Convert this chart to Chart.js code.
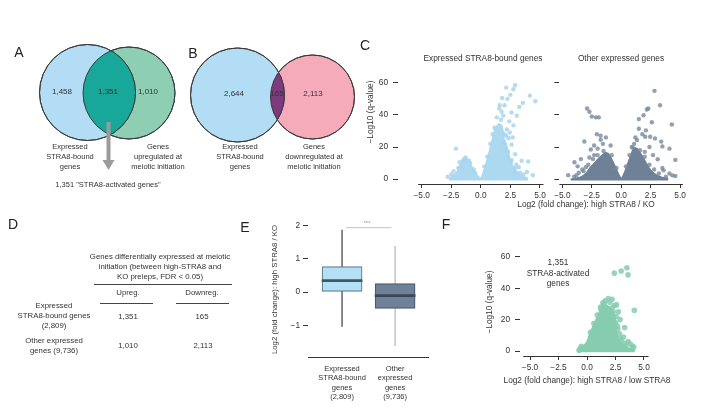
<!DOCTYPE html>
<html><head><meta charset="utf-8">
<script src="https://cdn.jsdelivr.net/npm/chart.js@4.4.1/dist/chart.umd.min.js"></script>
<style>
html,body{margin:0;padding:0;background:#fff;}
#page{position:relative;width:703px;height:412px;overflow:hidden;font-family:"Liberation Sans",Arial,sans-serif;color:#333;background:#fff;}
canvas{position:absolute;}
.t{position:absolute;transform:translate(-50%,-50%);white-space:nowrap;text-align:center;font-size:8px;line-height:10px;}
.s75{font-size:7.5px;}
.s78{font-size:7.8px;}
.s83{font-size:8.3px;}
.L{position:absolute;transform:translate(-50%,-50%);font-size:14px;color:#222;line-height:14px;}
.hr{position:absolute;height:0;border-top:1px solid #444;}
.rot{transform:translate(-50%,-50%) rotate(-90deg);}
</style></head>
<body>
<div id="page">
<canvas id="vennA" width="160" height="115" style="left:30px;top:35px"></canvas>
<canvas id="vennB" width="180" height="115" style="left:185px;top:40px"></canvas>
<canvas id="cLeft" width="188" height="138" style="left:368px;top:68px"></canvas>
<canvas id="cRight" width="144" height="138" style="left:551px;top:68px"></canvas>
<canvas id="boxE" width="168" height="200" style="left:270px;top:212px"></canvas>
<canvas id="volF" width="176" height="147" style="left:485px;top:238px"></canvas>

<svg style="position:absolute;left:0;top:0" width="703" height="412">
  <line x1="108.5" y1="122" x2="108.5" y2="161" stroke="#9b9b9b" stroke-width="4"/>
  <polygon points="102.5,160 114.5,160 108.5,170" fill="#9b9b9b"/>
</svg>

<div class="L" style="left:19px;top:52px">A</div>
<div class="L" style="left:193px;top:53px">B</div>
<div class="L" style="left:365px;top:45px">C</div>
<div class="L" style="left:13px;top:224px">D</div>
<div class="L" style="left:245px;top:227px">E</div>
<div class="L" style="left:446px;top:224px">F</div>

<div id="textA"></div>
<div class="t s75" style="left:70px;top:157px">Expressed<br>STRA8-bound<br>genes</div>
<div class="t s75" style="left:158px;top:157px">Genes<br>upregulated at<br>meiotic initiation</div>
<div class="t s75" style="left:108px;top:185px">1,351 "STRA8-activated genes"</div>

<div class="t s75" style="left:240px;top:157px">Expressed<br>STRA8-bound<br>genes</div>
<div class="t s75" style="left:314px;top:157px">Genes<br>downregulated at<br>meiotic initiation</div>

<div class="t s83" style="left:483px;top:58px">Expressed STRA8-bound genes</div>
<div class="t s83" style="left:621px;top:58px">Other expressed genes</div>
<div class="t s83" style="left:586px;top:204px">Log2 (fold change): high STRA8 / KO</div>
<div class="t s83 rot" style="left:370px;top:112px">−Log10 (q-value)</div>

<div class="t s78" style="left:160px;top:267px">Genes differentially expressed at meiotic<br>initiation (between high-STRA8 and<br>KO preleps, FDR &lt; 0.05)</div>
<div class="hr" style="left:94px;top:284px;width:138px"></div>
<div class="hr" style="left:100px;top:303px;width:53px"></div>
<div class="hr" style="left:176px;top:303px;width:53px"></div>
<div id="tableD"></div>

<div class="t" style="left:367px;top:223px;font-size:6px;color:#999">***</div>
<div class="t s83" style="left:558px;top:273px;line-height:10.5px">1,351<br>STRA8-activated<br>genes</div>
<div class="t s83" style="left:587px;top:380px">Log2 (fold change): high STRA8 / low STRA8</div>
</div>

<script>
// ---------------- DATA ----------------
const vennACounts = [1458, 1351, 1010];          // STRA8-bound only, both, upregulated only
const vennBCounts = [2644, 165, 2113];           // STRA8-bound only, both, downregulated only

const tableRowLabels = ["Expressed<br>STRA8-bound genes<br>(2,809)", "Other expressed<br>genes (9,736)"];
const tableColLabels = ["Upreg.", "Downreg."];
const tableUp = [1351, 1010];
const tableDown = [165, 2113];

const volcanoXTicks = [-5, -2.5, 0, 2.5, 5];
const volcanoYTicks = [0, 20, 40, 60];

// upper envelope of the dense point cloud [log2FC, -log10 q]
const boundCloud = [[-2.7,0],[-2.3,2.5],[-2.0,4.5],[-1.75,9],[-1.55,12.5],[-1.35,13.5],[-1.1,12.5],[-0.85,9],[-0.55,5],[-0.25,2],[0,0.3],[0.2,4],[0.45,10],[0.65,15.5],[0.85,21],[1.05,27],[1.2,31],[1.35,33],[1.55,34.5],[1.75,33.5],[1.88,30],[1.95,25],[2.1,23],[2.25,19.5],[2.4,14],[2.65,9],[3.0,5],[3.5,2],[4.0,0.5]];
const boundPoints = [[2.9,58.5],[2.75,56],[2.15,57],[2.5,52.5],[2.25,50],[1.8,50.5],[1.6,46],[1.55,44],[4.15,52],[4.6,48.5],[3.55,47.5],[3.25,45],[2.6,41.5],[1.9,39.5],[1.35,38.5],[3.05,39.5],[2.75,33.5],[2.2,31],[2.35,25.5],[2.6,21.5],[2.05,18.5],[2.9,15.5],[3.45,11.5],[4.0,11],[3.2,7.5],[3.9,4.5],[4.4,2.5],[-2.1,19],[-2.8,1.5],[-1.6,7],[-2.3,5],[-1.0,11.5],[1.75,42],[2.0,46],[2.4,36],[1.7,37],[2.45,29],[2.15,27],[2.7,26],[1.95,22],[2.3,14],[2.55,10.5],[3.0,9],[-1.3,13.5],[-1.8,10.5],[-2.5,3],[-0.6,6],[3.6,3],[2.9,4],
  [0.3,8],[0.55,14],[0.8,22],[1.0,28],[1.15,32],[2.0,28],[2.3,17],[2.6,12],[2.9,7],[3.3,4],[-1.5,11.5],[-1.9,7],[-0.9,10],[-0.5,4]];

const otherCloud = [[-4.3,0],[-3.5,1],[-3.0,3.5],[-2.6,7.5],[-2.2,10.5],[-1.9,13],[-1.6,15],[-1.35,16.5],[-1.1,16],[-0.85,13],[-0.55,8.5],[-0.25,3.5],[0,0.5],[0.25,3.5],[0.5,8.5],[0.75,13.5],[0.95,17.5],[1.15,19.5],[1.35,19],[1.6,16.5],[1.9,13],[2.2,9],[2.5,5.5],[2.9,3],[3.4,1.2],[4.0,0.3]];
const otherPoints = [[-2.9,44],[-2.7,42],[-2.5,39],[-1.9,38.5],[-2.15,38.5],[-2.07,28],[-1.75,27],[-1.74,24.5],[-1.3,26],[-3.13,23.5],[-2.58,18.5],[-3.42,12.5],[-3.97,10.5],[-4.5,2.5],[-4.0,1.5],[-3.6,4],[-3.0,7.5],[-2.7,13.5],[-0.9,21],[-2.3,21],[-1.55,22],[-2.0,19],[-3.3,6],[-2.3,15],[-3.7,8],[2.83,55],[3.3,46],[2.3,44],[2.18,43.4],[1.9,39.8],[1.5,37.4],[2.6,35.4],[4.3,34],[1.5,31.4],[2.1,30.4],[1.34,24.4],[2.04,26.4],[2.46,26.4],[2.87,25.4],[3.4,23.4],[3.5,20.4],[4.1,19],[4.6,12],[3.1,12.4],[3.5,7],[4.1,3.5],[4.35,2.4],[3.6,5.5],[1.8,28],[1.2,26],[2.4,20],[2.0,17],[2.7,15],[1.1,22],[0.9,20],[4.6,2],
  [-3.8,2.5],[-3.2,5],[-2.8,9],[-2.4,12.5],[-2.0,15],[-1.5,17.5],[-0.8,15],[-0.4,7],[0.4,8],[0.7,15],[1.0,19.5],[1.6,18],[2.0,14],[2.4,9],[2.8,6],[3.2,3.5],[3.8,1.5]];

const activatedCloud = [[-0.8,0],[-0.7,2],[-0.3,3.5],[0,6],[0.2,10],[0.45,14.5],[0.7,18.5],[0.95,22.5],[1.15,26],[1.35,28.5],[1.6,29.5],[1.85,28.5],[2.1,27],[2.35,24],[2.5,20],[2.55,14],[2.7,9],[2.95,5.5],[3.3,3],[3.8,1.5],[4.2,0.3]];
const activatedPoints = [[3.5,53],[3.0,51],[2.4,49.6],[3.6,48.5],[1.87,33.5],[2.6,29.4],[4.15,26],[1.4,30.8],[2.7,14],[3.6,6],[4.0,3],[3.2,9],[2.3,25],[2.0,31],[2.9,20],[3.3,15],[2.5,18],[3.8,4.5],[4.1,2.5],[-0.6,1.5],[-0.7,0.5],[2.2,33],[1.6,32],[2.85,11],[3.0,6.5],[2.4,29],[1.2,28],[2.75,25],[3.4,3],
  [0.3,12],[0.6,17.5],[0.9,23],[1.2,27],[1.5,30],[2.2,27.5],[2.55,22],[2.65,16],[2.9,8],[3.3,5],[-0.5,3]];

const boxCategories = [["Expressed","STRA8-bound","genes","(2,809)"],["Other","expressed","genes","(9,736)"]];
const boxQ1 = [0.02, -0.49];
const boxMedian = [0.34, -0.11];
const boxQ3 = [0.76, 0.25];
const whiskerLow = [-1.04, -1.62];
const whiskerHigh = [1.87, 1.38];
const boxYTicks = [-1, 0, 1, 2];

// ---------------- TEXT ----------------
const fmtN = n => n.toLocaleString('en-US');
function addText(parent, x, y, html, cls) {
  const d = document.createElement('div');
  d.className = 't ' + (cls || '');
  d.style.left = x + 'px'; d.style.top = y + 'px';
  d.innerHTML = html;
  document.getElementById(parent).appendChild(d);
}
addText('textA', 62, 92, fmtN(vennACounts[0]));
addText('textA', 108, 92, fmtN(vennACounts[1]));
addText('textA', 148, 92, fmtN(vennACounts[2]));
addText('textA', 234, 94, fmtN(vennBCounts[0]));
addText('textA', 277, 94, fmtN(vennBCounts[1]));
addText('textA', 313, 94, fmtN(vennBCounts[2]));
addText('tableD', 128, 293, tableColLabels[0], 's78');
addText('tableD', 202, 293, tableColLabels[1], 's78');
addText('tableD', 54, 316, tableRowLabels[0], 's78');
addText('tableD', 54, 346, tableRowLabels[1], 's78');
addText('tableD', 128, 317, fmtN(tableUp[0]), 's78');
addText('tableD', 202, 317, fmtN(tableDown[0]), 's78');
addText('tableD', 128, 346, fmtN(tableUp[1]), 's78');
addText('tableD', 203, 346, fmtN(tableDown[1]), 's78');

// ---------------- CHARTS ----------------
Chart.defaults.font.family = '"Liberation Sans", Arial, sans-serif';
Chart.defaults.font.size = 8.3;
Chart.defaults.color = '#333';
Chart.defaults.animation = false;
Chart.defaults.events = [];
Chart.defaults.plugins.legend.display = false;
Chart.defaults.plugins.tooltip.enabled = false;

// Venn diagrams: two bubbles + lens overlay clipped to their intersection
const lensPlugin = {
  id: 'lens',
  afterDatasetsDraw(chart, args, opts) {
    const a = chart.getDatasetMeta(0).data[0], b = chart.getDatasetMeta(1).data[0];
    const ra = a.options.radius, rb = b.options.radius;
    const ctx = chart.ctx;
    ctx.save();
    ctx.beginPath(); ctx.arc(a.x, a.y, ra, 0, Math.PI * 2); ctx.clip();
    ctx.beginPath(); ctx.arc(b.x, b.y, rb, 0, Math.PI * 2);
    ctx.fillStyle = opts.color; ctx.fill();
    ctx.restore();
    ctx.save();
    ctx.strokeStyle = opts.stroke; ctx.lineWidth = 1;
    ctx.beginPath(); ctx.arc(a.x, a.y, ra, 0, Math.PI * 2); ctx.stroke();
    ctx.beginPath(); ctx.arc(b.x, b.y, rb, 0, Math.PI * 2); ctx.stroke();
    ctx.restore();
  }
};
function venn(id, w, h, c1, c2, col1, col2, lensCol) {
  return new Chart(document.getElementById(id), {
    type: 'bubble',
    data: { datasets: [
      { data: [c1], backgroundColor: col1, borderColor: '#3a3a3a', borderWidth: 1, clip: false },
      { data: [c2], backgroundColor: col2, borderColor: '#3a3a3a', borderWidth: 1, clip: false }
    ]},
    options: {
      responsive: false,
      layout: { padding: 0, autoPadding: false },
      scales: {
        x: { type: 'linear', min: 0, max: w, display: false },
        y: { type: 'linear', min: 0, max: h, reverse: true, display: false }
      },
      plugins: { lens: { color: lensCol, stroke: '#3a3a3a' } }
    },
    plugins: [lensPlugin]
  });
}
venn('vennA', 160, 115, {x: 57.5, y: 57.5, r: 48}, {x: 99, y: 58, r: 46}, '#b3ddf4', '#8ecfb3', '#17a89a');
venn('vennB', 180, 115, {x: 52.5, y: 55, r: 47}, {x: 127.5, y: 57, r: 42}, '#b3ddf4', '#f5abba', '#7d3a7c');

// volcano plots
const axisLinePlugin = {
  id: 'axisLine',
  afterDraw(chart, args, opts) {
    const xs = chart.scales.x, y = Math.round(chart.chartArea.bottom) + 0.5;
    const ctx = chart.ctx;
    ctx.save(); ctx.strokeStyle = '#333'; ctx.lineWidth = 1;
    ctx.beginPath(); ctx.moveTo(xs.getPixelForValue(opts.from), y); ctx.lineTo(xs.getPixelForValue(opts.to), y); ctx.stroke();
    ctx.restore();
  }
};
const fmtX = v => (v < 0 ? '\u2212' : '') + Math.abs(v).toFixed(1);
function volcano(id, o) {
  return new Chart(document.getElementById(id), {
    type: 'scatter',
    data: { datasets: [
      { type: 'line', data: o.cloud.map(([x, y]) => ({x, y})), fill: {value: -0.8}, backgroundColor: o.cloudColor, borderColor: o.cloudColor, borderWidth: 1.5, pointRadius: 0, tension: 0.15, order: 2 },
      { data: o.points.map(([x, y]) => ({x, y})), backgroundColor: o.pointColor, borderWidth: 0, pointRadius: o.r, order: 1 }
    ]},
    options: {
      responsive: false,
      layout: { padding: { top: o.padTop, right: o.padRight, left: 0, bottom: 0 } },
      scales: {
        x: { type: 'linear', min: o.xmin, max: o.xmax,
          afterBuildTicks: s => { s.ticks = volcanoXTicks.map(v => ({value: v})); },
          afterFit: s => { s.height = o.xh; },
          ticks: { callback: fmtX, autoSkip: false, maxRotation: 0, minRotation: 0, padding: 3 },
          grid: { drawOnChartArea: false, tickLength: 4, color: '#333' },
          border: { display: false }
        },
        y: { type: 'linear', min: o.ymin, max: o.ymax,
          afterBuildTicks: s => { s.ticks = volcanoYTicks.map(v => ({value: v})); },
          afterFit: s => { s.width = o.yw; },
          ticks: { callback: v => o.yLabels ? String(v) : '', padding: 5 },
          grid: { drawOnChartArea: false, tickLength: 5, color: '#333' },
          border: { display: false },
          title: o.yTitle ? { display: true, text: o.yTitle, padding: {top: 0, bottom: 0} } : { display: false }
        }
      },
      plugins: { axisLine: { from: o.axisFrom, to: o.axisTo } }
    },
    plugins: [axisLinePlugin]
  });
}
volcano('cLeft', { cloud: boundCloud, points: boundPoints, cloudColor: '#acd8f0', pointColor: 'rgba(168,213,239,0.85)', r: 2.2,
  padTop: 6, padRight: 12, xh: 22, yw: 30, xmin: -7.0, xmax: 5.34, ymin: -3, ymax: 63, axisFrom: -5.3, axisTo: 5.3, yLabels: true });
volcano('cRight', { cloud: otherCloud, points: otherPoints, cloudColor: '#6f8196', pointColor: 'rgba(120,136,156,0.8)', r: 2.2,
  padTop: 6, padRight: 12, xh: 22, yw: 6, xmin: -5.25, xmax: 5.25, ymin: -3, ymax: 63, axisFrom: -5.25, axisTo: 5.25, yLabels: false });
volcano('volF', { cloud: activatedCloud, points: activatedPoints, cloudColor: '#86cdb0', pointColor: 'rgba(134,205,176,0.85)', r: 2.8,
  padTop: 8, padRight: 12, xh: 29, yw: 35, xmin: -5.88, xmax: 5.44, ymin: -3.125, ymax: 65.6, axisFrom: -5.6, axisTo: 5.4, yLabels: true,
  yTitle: '\u2212Log10 (q-value)' });

// box plot (E)
new Chart(document.getElementById('boxE'), {
  type: 'bar',
  data: { datasets: [
    { type: 'line', data: [{x: 1, y: whiskerLow[0]}, {x: 1, y: whiskerHigh[0]}], borderColor: '#4a4a4a', borderWidth: 1.3, pointRadius: 0, order: 3 },
    { type: 'line', data: [{x: 2, y: whiskerLow[1]}, {x: 2, y: whiskerHigh[1]}], borderColor: '#b8b8b8', borderWidth: 1.3, pointRadius: 0, order: 3 },
    { type: 'line', data: [{x: 1.08, y: 1.93}, {x: 1.93, y: 1.93}], borderColor: '#c4c4c4', borderWidth: 1, pointRadius: 0, order: 3 },
    { type: 'bar', data: [{x: 1, y: [boxQ1[0], boxQ3[0]]}, {x: 2, y: [boxQ1[1], boxQ3[1]]}], backgroundColor: ['#b4e0f6', '#6f8196'], borderColor: ['#5f7f90', '#4b5b6c'], borderWidth: 1.2, borderSkipped: false, barThickness: 40, grouped: false, order: 2 },
    { type: 'bar', data: [{x: 1, y: [boxMedian[0] - 0.03, boxMedian[0] + 0.03]}, {x: 2, y: [boxMedian[1] - 0.03, boxMedian[1] + 0.03]}], backgroundColor: ['#3f5868', '#3a4756'], borderWidth: 0, barThickness: 40, grouped: false, order: 1 }
  ]},
  options: {
    responsive: false,
    layout: { padding: { top: 10, right: 10, left: 0, bottom: 0 } },
    scales: {
      x: { type: 'linear', min: 0.358, max: 2.62, offset: false,
        afterBuildTicks: s => { s.ticks = [{value: 1}, {value: 2}]; },
        afterFit: s => { s.height = 55; },
        ticks: { callback: v => boxCategories[v - 1], autoSkip: false, maxRotation: 0, padding: 7, font: { size: 7.5, lineHeight: 1.25 } },
        grid: { display: true, drawOnChartArea: false, drawTicks: false },
        border: { display: true, color: '#333', width: 1 }
      },
      y: { type: 'linear', min: -1.95, max: 2.1,
        afterBuildTicks: s => { s.ticks = boxYTicks.map(v => ({value: v})); },
        afterFit: s => { s.width = 38; },
        ticks: { callback: v => (v < 0 ? '\u2212' : '') + Math.abs(v), padding: 3 },
        grid: { drawOnChartArea: false, tickLength: 5, color: '#333' },
        border: { display: false },
        title: { display: true, text: 'Log2 (fold change): high STRA8 / KO', font: { size: 7.8 }, padding: {top: 0, bottom: 0} }
      }
    }
  }
});
</script>
</body></html>
